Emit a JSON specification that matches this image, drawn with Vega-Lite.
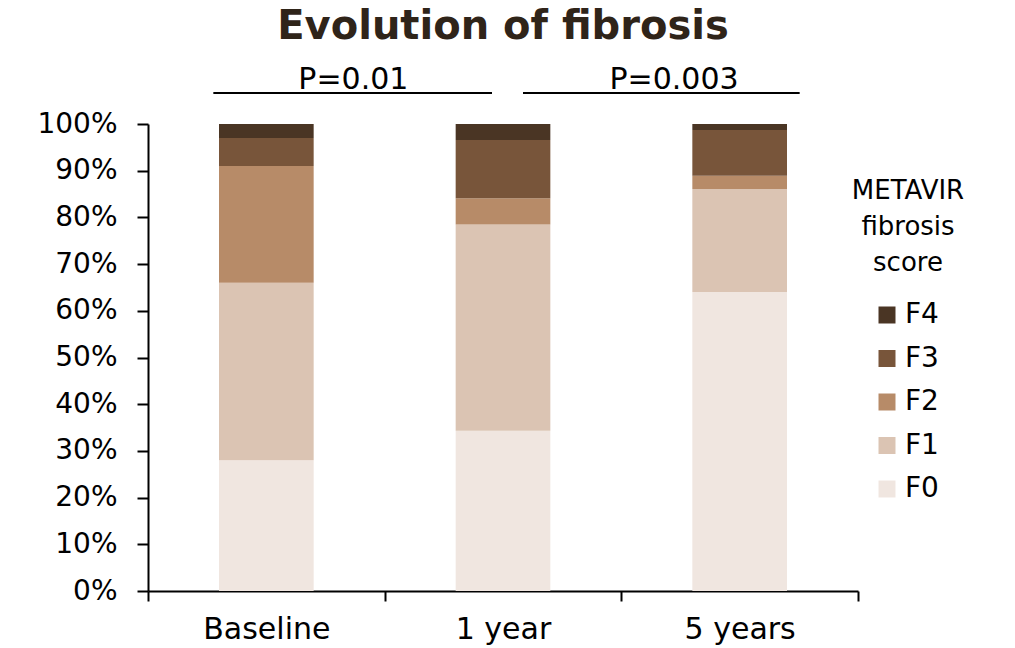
{
  "$schema": "https://vega.github.io/schema/vega-lite/v6.json",
  "autosize": {"type": "none"},
  "padding": {"left": 148, "top": 124, "right": 157, "bottom": 57},
  "width": 710,
  "height": 467,
  "background": "white",
  "title": {
    "text": "Evolution of fibrosis",
    "anchor": "middle",
    "font": "DejaVu Sans",
    "fontSize": 40,
    "fontWeight": "bold",
    "color": "#2f2419",
    "offset": 18
  },
  "config": {
    "view": {"stroke": null},
    "font": "DejaVu Sans"
  },
  "layer": [
    {
      "data": {
        "values": [
          {"time": "Baseline", "score": "F0", "share": 0.28},
          {"time": "Baseline", "score": "F1", "share": 0.38},
          {"time": "Baseline", "score": "F2", "share": 0.25},
          {"time": "Baseline", "score": "F3", "share": 0.06},
          {"time": "Baseline", "score": "F4", "share": 0.03},
          {"time": "1 year", "score": "F0", "share": 0.343},
          {"time": "1 year", "score": "F1", "share": 0.442},
          {"time": "1 year", "score": "F2", "share": 0.056},
          {"time": "1 year", "score": "F3", "share": 0.125},
          {"time": "1 year", "score": "F4", "share": 0.034},
          {"time": "5 years", "score": "F0", "share": 0.64},
          {"time": "5 years", "score": "F1", "share": 0.221},
          {"time": "5 years", "score": "F2", "share": 0.028},
          {"time": "5 years", "score": "F3", "share": 0.098},
          {"time": "5 years", "score": "F4", "share": 0.013}
        ]
      },
      "mark": {"type": "bar", "width": {"band": 0.4}},
      "encoding": {
        "x": {
          "field": "time",
          "type": "nominal",
          "sort": ["Baseline", "1 year", "5 years"],
          "scale": {"paddingInner": 0, "paddingOuter": 0},
          "axis": {
            "title": null,
            "labelAngle": 0,
            "labelFontSize": 30,
            "labelColor": "black",
            "labelPadding": 13,
            "tickSize": 10,
            "tickWidth": 2,
            "tickColor": "black",
            "tickBand": "extent",
            "domainColor": "black",
            "domainWidth": 2,
            "grid": false
          }
        },
        "y": {
          "field": "share",
          "type": "quantitative",
          "stack": "zero",
          "scale": {"domain": [0, 1], "nice": false},
          "axis": {
            "title": null,
            "values": [0, 0.1, 0.2, 0.3, 0.4, 0.5, 0.6, 0.7, 0.8, 0.9, 1],
            "format": ".0%",
            "labelFontSize": 28,
            "labelColor": "black",
            "labelPadding": 20,
            "tickSize": 11,
            "tickWidth": 2,
            "tickColor": "black",
            "domainColor": "black",
            "domainWidth": 2,
            "grid": false
          }
        },
        "color": {
          "field": "score",
          "type": "nominal",
          "scale": {
            "domain": ["F4", "F3", "F2", "F1", "F0"],
            "range": ["#4a3524", "#78553a", "#b78b68", "#dbc4b3", "#f0e6e0"]
          },
          "legend": {
            "title": ["METAVIR", "fibrosis", "score"],
            "orient": "none",
            "legendX": 704,
            "legendY": 54,
            "padding": 0,
            "titleFontSize": 26,
            "titleFontWeight": "normal",
            "titleColor": "black",
            "titleAlign": "center",
            "titleAnchor": "middle",
            "titleLineHeight": 36,
            "titlePadding": 25,
            "symbolType": "square",
            "symbolSize": 289,
            "symbolStrokeWidth": 0,
            "symbolOffset": -4,
            "labelFontSize": 28,
            "labelColor": "black",
            "labelOffset": 4,
            "rowPadding": 15.5
          }
        },
        "order": {"field": "score", "sort": "ascending"}
      }
    },
    {
      "data": {"values": [{"label": "P=0.01"}]},
      "mark": {"type": "rule", "stroke": "black", "strokeWidth": 2, "xOffset": -53, "x2Offset": -11},
      "encoding": {
        "x": {"datum": "Baseline"},
        "x2": {"datum": "1 year"},
        "y": {"datum": 1.0664}
      }
    },
    {
      "data": {"values": [{"label": "P=0.003"}]},
      "mark": {"type": "rule", "stroke": "black", "strokeWidth": 2, "xOffset": 20, "x2Offset": 60},
      "encoding": {
        "x": {"datum": "1 year"},
        "x2": {"datum": "5 years"},
        "y": {"datum": 1.0664}
      }
    },
    {
      "data": {"values": [{"label": "P=0.01"}]},
      "mark": {"type": "text", "fontSize": 30, "color": "black", "baseline": "alphabetic", "align": "center", "xOffset": 87, "dy": -4},
      "encoding": {
        "x": {"datum": "Baseline"},
        "y": {"datum": 1.0664},
        "text": {"field": "label"}
      }
    },
    {
      "data": {"values": [{"label": "P=0.003"}]},
      "mark": {"type": "text", "fontSize": 30, "color": "black", "baseline": "alphabetic", "align": "center", "xOffset": 171, "dy": -4},
      "encoding": {
        "x": {"datum": "1 year"},
        "y": {"datum": 1.0664},
        "text": {"field": "label"}
      }
    }
  ]
}
